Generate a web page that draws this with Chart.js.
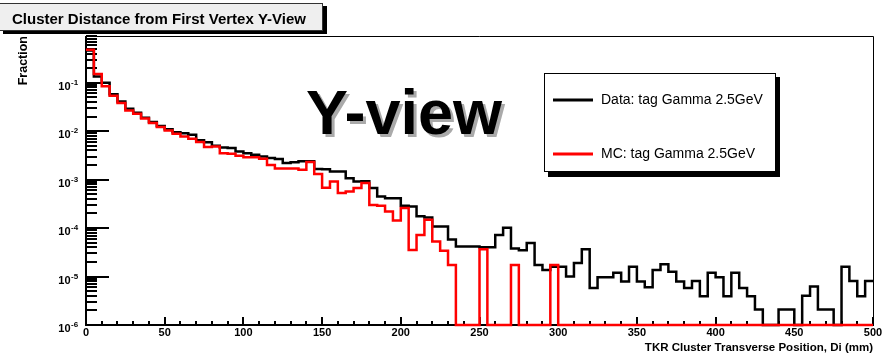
<!DOCTYPE html>
<html>
<head>
<meta charset="utf-8">
<script src="https://cdn.jsdelivr.net/npm/chart.js@4.4.1/dist/chart.umd.min.js"></script>
<style>
    body { margin: 0; background: #fff; }
    canvas { display: block; }
</style>
</head>
<body>
<canvas id="cluster_distance" width="891" height="361"></canvas>
<script>
// histogram binning (mm)
const bin_width = 5;
const x_min = 0;
const x_max = 500;
const y_min = 1e-6;
const y_max = 0.92;

// Data: tag Gamma 2.5GeV, fraction per 5 mm bin
const data_values = [
    0.46, 0.135, 0.100, 0.058, 0.041, 0.029, 0.024, 0.019, 0.0155, 0.0128,
    0.011, 0.0095, 0.0091, 0.0084, 0.0065, 0.0059, 0.0050, 0.0046, 0.0045, 0.0038,
    0.0035, 0.00325, 0.0030, 0.0028, 0.00266, 0.0022, 0.00228, 0.0024, 0.0024, 0.00166,
    0.00163, 0.00147, 0.00147, 0.00107, 0.00091, 0.00093, 0.00067, 0.00045, 0.000415, 0.000415,
    0.00029, 0.00028, 0.000175, 0.000165, 0.000108, 0.000108, 0.000058, 0.0000415, 0.0000415, 0.0000415,
    0.000040, 0.000040, 0.000072, 0.000101, 0.000038, 0.000035, 0.000049, 0.0000174, 0.0000137, 0.000016,
    0.000016, 0.0000100, 0.0000190, 0.0000366, 0.0000058, 0.0000097, 0.0000097, 0.000012, 0.0000079, 0.000016,
    0.0000079, 0.0000060, 0.0000137, 0.0000180, 0.0000126, 0.0000079, 0.0000058, 0.0000081, 0.0000039, 0.0000120,
    0.0000097, 0.0000039, 0.0000120, 0.0000058, 0.0000039, 0.0000021, 0, 0, 0.0000021, 0.0000021,
    0, 0.0000040, 0.0000062, 0.0000021, 0.0000021, 0, 0.0000160, 0.0000081, 0.0000039, 0.0000081
];

// MC: tag Gamma 2.5GeV
const mc_values = [
    0.48, 0.151, 0.084, 0.054, 0.038, 0.0268, 0.0229, 0.0183, 0.0147, 0.0122,
    0.0103, 0.0088, 0.0078, 0.0070, 0.0060, 0.0047, 0.0048, 0.0035, 0.0034, 0.0031,
    0.0029, 0.0029, 0.0027, 0.0020, 0.0017, 0.0017, 0.0017, 0.0016, 0.0023, 0.0013,
    0.00068, 0.00091, 0.00053, 0.00057, 0.00067, 0.00085, 0.00030, 0.00029, 0.00022, 0.000143,
    0.00026, 0.0000355, 0.000072, 0.000148, 0.000053, 0.000034, 0.0000174, 0, 0, 0,
    0.0000366, 0, 0, 0, 0.0000174, 0, 0, 0, 0, 0.0000174,
    0, 0, 0, 0, 0, 0, 0, 0, 0, 0,
    0, 0, 0, 0, 0, 0, 0, 0, 0, 0,
    0, 0, 0, 0, 0, 0, 0, 0, 0, 0,
    0, 0, 0, 0, 0, 0, 0, 0, 0, 0
];

const x_ticks = [0, 50, 100, 150, 200, 250, 300, 350, 400, 450, 500];
const x_minor_step = 10;
const y_decades = [-6, -5, -4, -3, -2, -1];

const series_labels = ['Data: tag Gamma 2.5GeV', 'MC: tag Gamma 2.5GeV'];
const title_text = 'Cluster Distance from First Vertex Y-View';
const x_title = 'TKR Cluster Transverse Position, Di (mm)';
const y_title = 'Fraction';
const view_text = 'Y-view';

function to_points(values) {
    // lower bin edge + closing point at the upper edge of the last bin
    let pts = values.map((v, i) => ({x: x_min + i * bin_width, y: Math.max(v, y_min)}));
    pts.push({x: x_min + values.length * bin_width, y: Math.max(values[values.length - 1], y_min)});
    return pts;
}

let frame_plugin = {
    id: 'root_frame',
    beforeDatasetsDraw(chart) {
        const ctx = chart.ctx;
        const a = chart.chartArea;
        const xs = chart.scales.x, ys = chart.scales.y;
        ctx.save();
        ctx.strokeStyle = '#000';
        // thin top / right
        ctx.lineWidth = 1;
        ctx.beginPath();
        ctx.moveTo(a.left, a.top + 0.5); ctx.lineTo(a.right + 0.5, a.top + 0.5);
        ctx.lineTo(a.right + 0.5, a.bottom);
        ctx.stroke();
        // y ticks (inside frame)
        ctx.lineWidth = 2;
        ctx.beginPath();
        y_decades.forEach(d => {
            for (let m = 1; m <= 9; m++) {
                const v = m * Math.pow(10, d);
                if (v > y_max) break;
                const p = Math.round(ys.getPixelForValue(v));
                ctx.moveTo(a.left, p);
                ctx.lineTo(a.left + (m === 1 ? 23 : 11), p);
            }
        });
        // x ticks
        for (let v = x_min; v <= x_max; v += x_minor_step) {
            const p = Math.round(xs.getPixelForValue(v));
            const len = x_ticks.includes(v) ? 8 : 4;
            ctx.moveTo(p, a.bottom);
            ctx.lineTo(p, a.bottom - len);
        }
        ctx.stroke();
        // thick left / bottom axes
        ctx.beginPath();
        ctx.moveTo(a.left, a.top); ctx.lineTo(a.left, a.bottom);
        ctx.lineTo(a.right + 1, a.bottom);
        ctx.stroke();
        ctx.restore();
    },
    afterDraw(chart) {
        const ctx = chart.ctx;
        const a = chart.chartArea;
        const xs = chart.scales.x, ys = chart.scales.y;
        ctx.save();

        // title pave with shadow
        ctx.fillStyle = '#000';
        ctx.fillRect(3, 6, 324, 28);
        ctx.fillStyle = '#efefef';
        ctx.fillRect(-1, 3, 324, 28);
        ctx.strokeStyle = '#333';
        ctx.lineWidth = 1;
        ctx.strokeRect(-0.5, 3.5, 323, 27);
        ctx.fillStyle = '#000';
        ctx.font = 'bold 15px "Liberation Sans", Arial, sans-serif';
        ctx.textBaseline = 'alphabetic';
        ctx.textAlign = 'left';
        ctx.fillText(title_text, 12, 24);

        // y tick labels 10^n
        y_decades.forEach(d => {
            const p = ys.getPixelForValue(Math.pow(10, d));
            ctx.font = 'bold 11px "Liberation Sans", Arial, sans-serif';
            ctx.textAlign = 'right';
            ctx.textBaseline = 'middle';
            ctx.fillText('10', 70.5, p + 4);
            ctx.font = 'bold 8px "Liberation Sans", Arial, sans-serif';
            ctx.textAlign = 'left';
            ctx.fillText(String(d), 71, p);
        });

        // x tick labels
        ctx.font = 'bold 11px "Liberation Sans", Arial, sans-serif';
        ctx.textAlign = 'center';
        ctx.textBaseline = 'middle';
        x_ticks.forEach(v => {
            ctx.fillText(String(v), xs.getPixelForValue(v), 333);
        });

        // axis titles
        ctx.font = 'bold 11.5px "Liberation Sans", Arial, sans-serif';
        ctx.textAlign = 'right';
        ctx.fillText(x_title, a.right, 348);
        ctx.save();
        ctx.translate(24, a.top);
        ctx.rotate(-Math.PI / 2);
        ctx.font = 'bold 12.5px "Liberation Sans", Arial, sans-serif';
        ctx.textAlign = 'right';
        ctx.textBaseline = 'middle';
        ctx.fillText(y_title, 0, 0);
        ctx.restore();

        // legend with shadow
        ctx.fillStyle = '#000';
        ctx.fillRect(548, 77, 232, 100);
        ctx.fillStyle = '#fff';
        ctx.fillRect(544, 73, 232, 99);
        ctx.strokeStyle = '#000';
        ctx.lineWidth = 1;
        ctx.strokeRect(544.5, 73.5, 231, 98);
        const rows = [100, 154];
        chart.data.datasets.forEach((ds, i) => {
            ctx.strokeStyle = ds.borderColor;
            ctx.lineWidth = 3;
            ctx.beginPath();
            ctx.moveTo(553, rows[i]); ctx.lineTo(593, rows[i]);
            ctx.stroke();
            ctx.fillStyle = '#000';
            ctx.font = '14px "Liberation Sans", Arial, sans-serif';
            ctx.textAlign = 'left';
            ctx.textBaseline = 'middle';
            ctx.fillText(ds.label, 601, rows[i]);
        });

        // big "Y-view" with shadow
        ctx.font = 'bold 63px "Liberation Sans", Arial, sans-serif';
        ctx.textAlign = 'left';
        ctx.textBaseline = 'alphabetic';
        ctx.fillStyle = '#aaaaaa';
        ctx.fillText(view_text, 309, 137);
        ctx.fillStyle = '#000';
        ctx.fillText(view_text, 306, 134);

        ctx.restore();
    }
};

let cluster_param = {
    type: 'line',
    data: {
        datasets: [{
            label: series_labels[0],
            data: to_points(data_values),
            borderColor: '#000000',
            borderWidth: 2.5,
            stepped: true,
            fill: false,
            pointRadius: 0,
            borderJoinStyle: 'miter',
            borderCapStyle: 'butt',
            clip: 3,
            order: 2
        }, {
            label: series_labels[1],
            data: to_points(mc_values),
            borderColor: '#ff0000',
            borderWidth: 2.5,
            stepped: true,
            fill: false,
            pointRadius: 0,
            borderJoinStyle: 'miter',
            borderCapStyle: 'butt',
            clip: 3,
            order: 1
        }]
    },
    options: {
        responsive: false,
        animation: false,
        devicePixelRatio: 1,
        layout: {
            padding: {left: 86, top: 36, right: 18, bottom: 36}
        },
        plugins: {
            legend: {display: false},
            tooltip: {enabled: false}
        },
        scales: {
            x: {type: 'linear', min: x_min, max: x_max, display: false},
            y: {type: 'logarithmic', min: y_min, max: y_max, display: false}
        }
    },
    plugins: [frame_plugin]
};
let cluster_chart = new Chart(document.getElementById('cluster_distance'), cluster_param);
</script>
</body>
</html>
